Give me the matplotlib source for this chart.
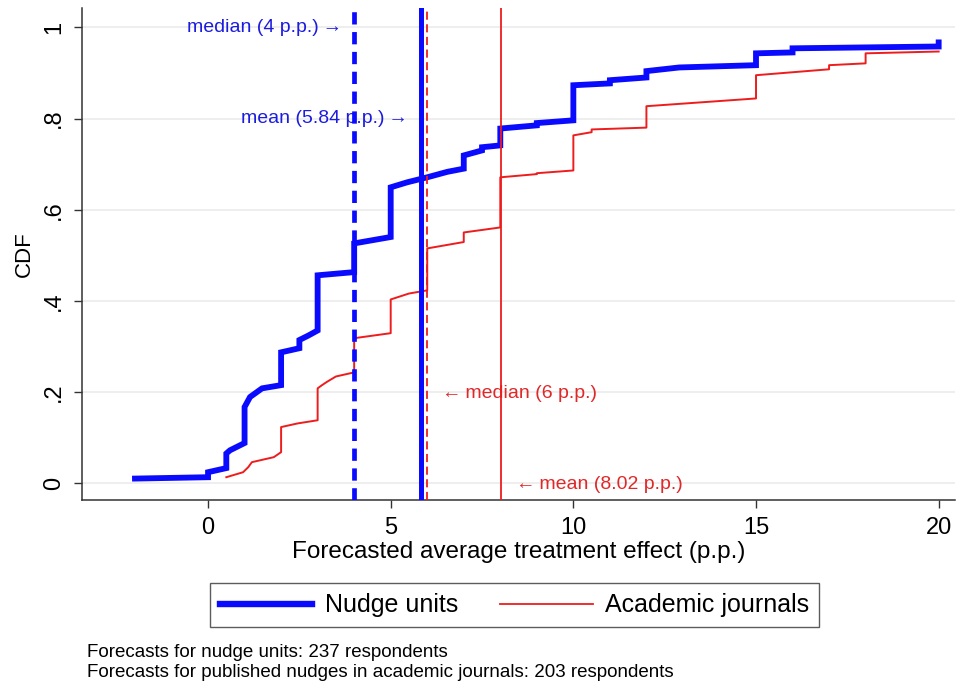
import matplotlib
matplotlib.use("Agg")
import matplotlib.pyplot as plt
from matplotlib.lines import Line2D

plt.rcParams['font.family'] = ['Liberation Sans', 'DejaVu Sans']

# CDF of forecasts, nudge units (blue) vs academic journals (red)
nudge_x = [-2.0, 0.0, 0.0, 0.5, 0.5, 0.6, 1.0, 1.0, 1.15, 1.48, 2.0, 2.0, 2.5, 2.5, 2.75,
           3.0, 3.0, 4.0, 4.0, 5.0, 5.0, 5.45, 6.0, 6.55, 7.0, 7.0, 7.5, 7.5, 8.0, 8.0,
           9.0, 9.0, 10.0, 10.0, 11.0, 11.0, 12.0, 12.0, 12.9, 15.0, 15.0, 16.0, 16.0,
           20.0, 20.0]
nudge_y = [0.010, 0.013, 0.024, 0.033, 0.065, 0.072, 0.088, 0.167, 0.189, 0.208, 0.215,
           0.287, 0.296, 0.314, 0.324, 0.335, 0.456, 0.463, 0.526, 0.540, 0.649, 0.660,
           0.671, 0.683, 0.690, 0.719, 0.730, 0.737, 0.741, 0.778, 0.785, 0.790, 0.796,
           0.873, 0.877, 0.884, 0.890, 0.904, 0.912, 0.917, 0.943, 0.945, 0.954, 0.958,
           0.967]

journal_x = [0.5, 0.96, 1.1, 1.2, 1.8, 2.0, 2.0, 2.45, 3.0, 3.0, 3.12, 3.25, 3.5, 4.0, 4.0,
             5.0, 5.0, 5.5, 6.0, 6.0, 7.0, 7.0, 8.0, 8.0, 9.0, 9.0, 10.0, 10.0, 10.5,
             10.5, 12.0, 12.0, 15.0, 15.0, 17.0, 17.0, 18.0, 18.0, 20.0]
journal_y = [0.013, 0.024, 0.035, 0.046, 0.057, 0.068, 0.123, 0.131, 0.138, 0.208, 0.215,
             0.222, 0.234, 0.243, 0.318, 0.329, 0.403, 0.416, 0.423, 0.515, 0.529, 0.550,
             0.561, 0.671, 0.678, 0.680, 0.686, 0.763, 0.770, 0.776, 0.780, 0.827, 0.844,
             0.895, 0.908, 0.917, 0.921, 0.943, 0.947]

nudge_median, nudge_mean = 4, 5.84
journal_median, journal_mean = 6, 8.02

xticks = [0, 5, 10, 15, 20]
yticks = [0, 0.2, 0.4, 0.6, 0.8, 1]
ylabels = ['0', '.2', '.4', '.6', '.8', '1']

blue = '#0a0aff'
red = '#ee1c1c'
blue_txt = '#1c1ce0'
red_txt = '#e02828'

fig = plt.figure(figsize=(9.58, 6.84), dpi=100)
ax = fig.add_axes([0.0856, 0.269, 0.911, 0.719])

for y in yticks:
    ax.axhline(y, color='#ebebeb', lw=1.2, zorder=0)

ax.plot(journal_x, journal_y, color=red, lw=1.4, zorder=3)
ax.plot(nudge_x, nudge_y, color=blue, lw=4.2, zorder=4, solid_joinstyle='miter')

ax.axvline(nudge_median, color=blue, lw=3.4, ls=(0, (2.6, 1.6)), zorder=5)
ax.axvline(nudge_mean, color=blue, lw=3.6, zorder=5)
ax.axvline(journal_median, color=red, lw=1.3, ls=(0, (4.5, 2.5)), zorder=5)
ax.axvline(journal_mean, color=red, lw=1.3, zorder=5)

ax.text(nudge_median - 0.32, 1.0, 'median (%g p.p.)\u2009\u2192' % nudge_median,
        color=blue_txt, fontsize=14, ha='right', va='center')
ax.text(nudge_mean - 0.37, 0.8, 'mean (%.2f p.p.)\u2009\u2192' % nudge_mean,
        color=blue_txt, fontsize=14, ha='right', va='center')
ax.text(journal_median + 0.4, 0.196, '\u2190\u2009median (%g p.p.)' % journal_median,
        color=red_txt, fontsize=14, ha='left', va='center')
ax.text(journal_mean + 0.4, -0.004, '\u2190\u2009mean (%.2f p.p.)' % journal_mean,
        color=red_txt, fontsize=14, ha='left', va='center')

ax.set_xlim(-3.45, 20.44)
ax.set_ylim(-0.037, 1.042)
ax.set_xticks(xticks)
ax.set_xticklabels([str(t) for t in xticks], fontsize=17)
ax.set_yticks(yticks)
ax.set_yticklabels(ylabels, fontsize=17, rotation=90, va='center')
ax.tick_params(length=6, width=1, color='#333333', pad=6)
for s in ['top', 'right']:
    ax.spines[s].set_visible(False)
for s in ['left', 'bottom']:
    ax.spines[s].set_color('#333333')
    ax.spines[s].set_linewidth(1.1)

ax.set_xlabel('Forecasted average treatment effect (p.p.)', fontsize=17.5, labelpad=2)
ax.set_ylabel('CDF', fontsize=16, labelpad=6)

handles = [Line2D([], [], color=blue, lw=4.6), Line2D([], [], color=red, lw=1.3)]
leg = fig.legend(handles, ['Nudge units', 'Academic journals'], ncol=2,
                 loc='center', bbox_to_anchor=(0.537, 0.1148), fontsize=18,
                 frameon=True, fancybox=False, edgecolor='#333333',
                 handlelength=3.7, handletextpad=0.5, columnspacing=1.7,
                 borderpad=0.4)
leg.get_frame().set_linewidth(1.0)

fig.text(0.091, 0.0395, 'Forecasts for nudge units: 237 respondents', fontsize=13.5,
         va='baseline')
fig.text(0.091, 0.0102, 'Forecasts for published nudges in academic journals: 203 respondents',
         fontsize=13.5, va='baseline')

fig.savefig('out.png', dpi=100)
